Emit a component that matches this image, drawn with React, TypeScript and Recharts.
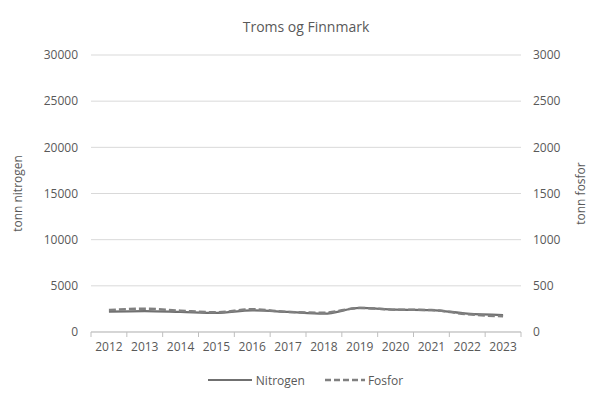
import React from "react";
import {
  LineChart,
  Line,
  XAxis,
  YAxis,
  CartesianGrid,
  Legend,
} from "recharts";

const years = ["2012", "2013", "2014", "2015", "2016", "2017", "2018", "2019", "2020", "2021", "2022", "2023"];
const nitrogen = [2200, 2270, 2170, 2060, 2350, 2170, 1980, 2600, 2420, 2380, 1980, 1840];
const fosfor = [238, 252, 231, 213, 246, 217, 209, 260, 242, 238, 192, 170];
const leftTicks = [0, 5000, 10000, 15000, 20000, 25000, 30000];
const rightTicks = [0, 500, 1000, 1500, 2000, 2500, 3000];
const bandTicks = [0, 1, 2, 3, 4, 5, 6, 7, 8, 9, 10, 11, 12];

const data = years.map((y, i) => ({
  x: i + 0.5,
  year: y,
  nitrogen: nitrogen[i],
  fosfor: fosfor[i],
}));

const TEXT = "#595959";
const FONT = "'Open Sans', 'Liberation Sans', sans-serif";
const PLOT_W = 430;

function YearTick(props: any) {
  const { x, y, payload } = props;
  const i = payload.value;
  if (i >= years.length) return null;
  const step = PLOT_W / years.length;
  return (
    <text x={x + step / 2} y={y + 12} textAnchor="middle" fill={TEXT} fontSize={12} fontFamily={FONT}>
      {years[i]}
    </text>
  );
}

function LegendContent() {
  return (
    <div style={{ display: "flex", justifyContent: "center", alignItems: "center", height: 30, fontFamily: FONT, fontSize: 12, color: TEXT }}>
      <svg width={44} height={6} style={{ marginRight: 4 }}>
        <line x1={0} y1={3} x2={44} y2={3} stroke="#707070" strokeWidth={2} />
      </svg>
      <span style={{ marginRight: 20 }}>Nitrogen</span>
      <svg width={40} height={6} style={{ marginRight: 3 }}>
        <line x1={0} y1={3} x2={40} y2={3} stroke="#808080" strokeWidth={2.5} strokeDasharray="6 3" />
      </svg>
      <span>Fosfor</span>
    </div>
  );
}

export default function App() {
  return (
    <div style={{ position: "absolute", left: 0, top: 0, width: 601, height: 403, background: "#fff" }}>
      <div
        style={{
          position: "absolute",
          top: 17,
          left: 91,
          width: PLOT_W,
          textAlign: "center",
          fontFamily: FONT,
          fontSize: 14,
          color: TEXT,
        }}
      >
        Troms og Finnmark
      </div>
      <LineChart
        width={601}
        height={403}
        data={data}
        margin={{ top: 55, right: 0, bottom: 8, left: 10 }}
      >
        <CartesianGrid yAxisId="left" vertical={false} stroke="#d9d9d9" />
        <XAxis
          dataKey="x"
          type="number"
          domain={[0, 12]}
          ticks={bandTicks}
          interval={0}
          height={33}
          tick={<YearTick />}
          tickLine={{ stroke: "#bfbfbf" }}
          tickSize={5}
          axisLine={{ stroke: "#bfbfbf" }}
        />
        <YAxis
          yAxisId="left"
          width={81}
          domain={[0, 30000]}
          ticks={leftTicks}
          axisLine={false}
          tickLine={false}
          tick={{ fill: TEXT, fontSize: 12, fontFamily: FONT }}
          tickMargin={7}
          label={{
            value: "tonn nitrogen",
            angle: -90,
            position: "insideLeft",
            offset: 8,
            style: { fill: TEXT, fontSize: 12, fontFamily: FONT, textAnchor: "middle" },
          }}
        />
        <YAxis
          yAxisId="right"
          orientation="right"
          width={80}
          domain={[0, 3000]}
          ticks={rightTicks}
          axisLine={false}
          tickLine={false}
          tick={{ fill: TEXT, fontSize: 12, fontFamily: FONT }}
          tickMargin={6}
          label={{
            value: "tonn fosfor",
            angle: -90,
            position: "insideRight",
            offset: 20,
            style: { fill: TEXT, fontSize: 12, fontFamily: FONT, textAnchor: "middle" },
          }}
        />
        <Legend verticalAlign="bottom" wrapperStyle={{ height: 30 }} content={<LegendContent />} />
        <Line
          yAxisId="left"
          type="monotone"
          dataKey="nitrogen"
          stroke="#707070"
          strokeWidth={2.25}
          dot={false}
          isAnimationActive={false}
        />
        <Line
          yAxisId="right"
          type="monotone"
          dataKey="fosfor"
          stroke="#808080"
          strokeWidth={2.5}
          strokeDasharray="7 3"
          dot={false}
          isAnimationActive={false}
        />
      </LineChart>
    </div>
  );
}
